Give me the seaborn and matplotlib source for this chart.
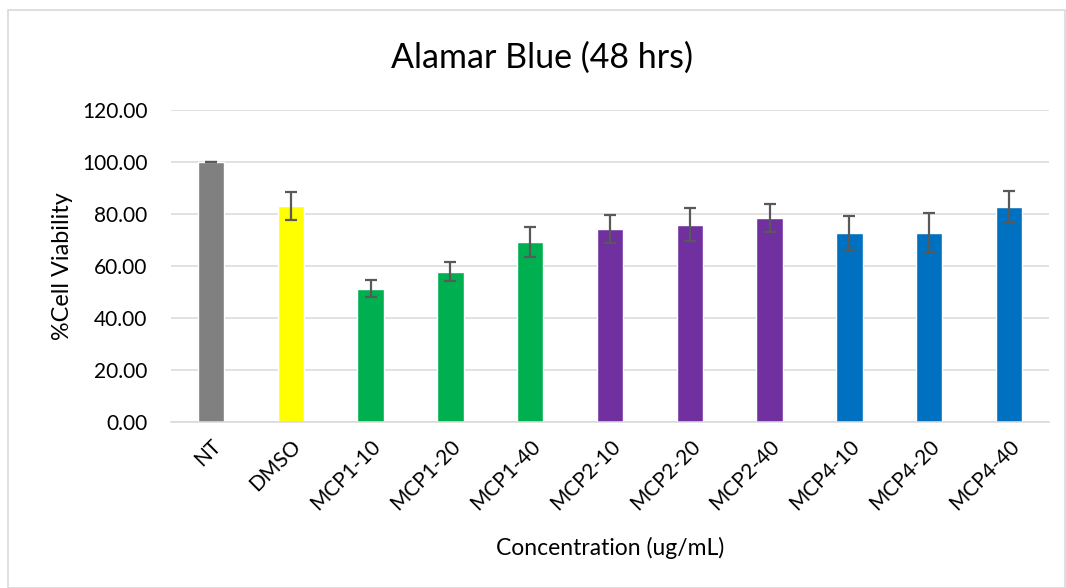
import matplotlib
matplotlib.use("Agg")
import matplotlib.pyplot as plt
import seaborn as sns
import pandas as pd
from matplotlib.patches import Rectangle

categories = ["NT", "DMSO", "MCP1-10", "MCP1-20", "MCP1-40",
              "MCP2-10", "MCP2-20", "MCP2-40", "MCP4-10", "MCP4-20", "MCP4-40"]
viability = [100.0, 83.1, 51.3, 57.8, 69.3, 74.3, 75.9, 78.5, 72.8, 72.8, 82.8]
errors = [0.05, 5.5, 3.3, 3.7, 5.7, 5.3, 6.3, 5.5, 6.6, 7.4, 6.1]
bar_colors = ["#808080", "#FFFF00", "#00B050", "#00B050", "#00B050",
              "#7030A0", "#7030A0", "#7030A0", "#0070C0", "#0070C0", "#0070C0"]
y_ticks = [0, 20, 40, 60, 80, 100, 120]

sns.set_theme(style="white")
plt.rcParams["font.family"] = ["Lato", "DejaVu Sans"]

df = pd.DataFrame({"group": categories, "value": viability})

fig = plt.figure(figsize=(10.66, 5.88), dpi=100)
ax = fig.add_axes([0.1604, 0.2823, 0.8236, 0.5306])

sns.barplot(data=df, x="group", y="value", hue="group",
            palette=dict(zip(categories, bar_colors)), order=categories,
            width=0.33, errorbar=None, legend=False, ax=ax, saturation=1)

xs = ax.get_xticks()
ax.errorbar(xs, viability, yerr=errors, fmt="none", ecolor="#595959",
            elinewidth=1.6, capsize=4.5, capthick=1.6, zorder=3)

ax.set_ylim(0, 120)
ax.set_xlim(-0.5, len(categories) - 0.5)
ax.set_yticks(y_ticks)
ax.set_yticklabels([f"{v:.2f}" for v in y_ticks], fontsize=15, color="#000000")
ax.set_xticks(xs)
ax.set_xticklabels(categories, rotation=45, ha="right", rotation_mode="anchor",
                   fontsize=15, color="#000000")
ax.tick_params(axis="both", length=0)
ax.tick_params(axis="y", pad=17)
ax.tick_params(axis="x", pad=10)
ax.yaxis.grid(True, color="#D9D9D9", linewidth=1.1)
ax.set_axisbelow(True)
for side in ["left", "right", "top"]:
    ax.spines[side].set_visible(False)
ax.spines["bottom"].set_color("#D9D9D9")
ax.spines["bottom"].set_linewidth(1.1)

ax.set_xlabel("Concentration (ug/mL)", fontsize=16.5, color="#000000")
ax.set_ylabel("%Cell Viability", fontsize=16.8, color="#000000")
ax.xaxis.set_label_coords(0.5, -0.368)
ax.yaxis.set_label_coords(-0.112, 0.5)

fig.text(0.508, 0.901, "Alamar Blue (48 hrs)", ha="center", va="center",
         fontsize=24.5, color="#000000")

# chart frame
fig.patches.append(Rectangle((8 / 1066, 0.0), 1057 / 1066, 578 / 588,
                             transform=fig.transFigure, fill=False,
                             edgecolor="#D9D9D9", linewidth=1.2))

fig.savefig("out.png", dpi=100, facecolor="white")
